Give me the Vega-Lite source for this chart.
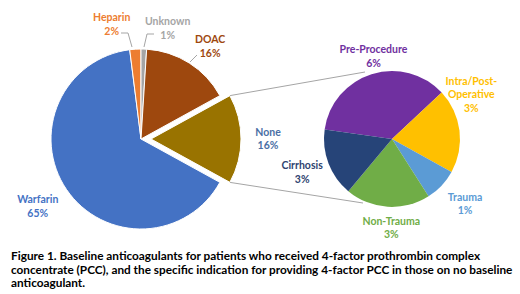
{
  "$schema": "https://vega.github.io/schema/vega-lite/v6.json",
  "width": 520,
  "height": 232,
  "padding": 0,
  "background": "white",
  "view": {"stroke": null},
  "config": {
    "text": {"font": "Lato", "fontWeight": "bold", "fontSize": 10.5, "lineBreak": "\n", "lineHeight": 13.5, "align": "center", "baseline": "middle"}
  },
  "title": {
    "text": ["Figure 1.  Baseline anticoagulants for patients who received 4-factor prothrombin complex", "concentrate (PCC), and the specific indication for providing 4-factor PCC in those on no baseline", "anticoagulant."],
    "orient": "bottom", "anchor": "start", "frame": "group", "dx": 11, "offset": 10,
    "font": "Lato", "fontSize": 11.8, "fontWeight": "bold", "lineHeight": 13.5, "color": "#000000"
  },
  "datasets": {
    "main": [
      {"k": "None", "v": 16, "o": 1, "lbl": "None\n16%"},
      {"k": "Warfarin", "v": 65, "o": 2, "lbl": "Warfarin\n65%"},
      {"k": "Heparin", "v": 2, "o": 3, "lbl": "Heparin\n2%"},
      {"k": "Unknown", "v": 1, "o": 4, "lbl": "Unknown\n1%"},
      {"k": "DOAC", "v": 16, "o": 5, "lbl": "DOAC\n16%"}
    ],
    "sub": [
      {"k": "Pre-Procedure", "v": 5.73, "o": 1, "lbl": "Pre-Procedure\n6%"},
      {"k": "Intra/Post-Operative", "v": 3.2, "o": 2, "lbl": "Intra/Post-\nOperative\n3%"},
      {"k": "Trauma", "v": 1.27, "o": 3, "lbl": "Trauma\n1%"},
      {"k": "Non-Trauma", "v": 3.22, "o": 4, "lbl": "Non-Trauma\n3%"},
      {"k": "Cirrhosis", "v": 2.58, "o": 5, "lbl": "Cirrhosis\n3%"}
    ]
  },
  "resolve": {"scale": {"theta": "independent", "color": "independent"}},
  "layer": [
    {"data": {"values": [{}]}, "mark": {"type": "rule", "color": "#A5A5A5", "strokeWidth": 1},
     "encoding": {"x": {"datum": 230, "type": "quantitative", "scale": {"domain": [0, 520], "nice": false, "zero": false}, "axis": null}, "x2": {"datum": 365}, "y": {"datum": 86.6, "type": "quantitative", "scale": {"domain": [0, 232], "reverse": true, "nice": false, "zero": false}, "axis": null}, "y2": {"datum": 63}}},
    {"data": {"values": [{}]}, "mark": {"type": "rule", "color": "#A5A5A5", "strokeWidth": 1},
     "encoding": {"x": {"datum": 230, "type": "quantitative"}, "x2": {"datum": 363}, "y": {"datum": 173.4, "type": "quantitative"}, "y2": {"datum": 194}}},
    {"data": {"values": [{}]}, "mark": {"type": "rule", "color": "#A5A5A5", "strokeWidth": 1},
     "encoding": {"x": {"datum": 121, "type": "quantitative"}, "x2": {"datum": 128}, "y": {"datum": 24, "type": "quantitative"}, "y2": {"datum": 24}}},
    {"data": {"values": [{}]}, "mark": {"type": "rule", "color": "#A5A5A5", "strokeWidth": 1},
     "encoding": {"x": {"datum": 128, "type": "quantitative"}, "x2": {"datum": 132}, "y": {"datum": 24, "type": "quantitative"}, "y2": {"datum": 38}}},
    {"data": {"values": [{}]}, "mark": {"type": "rule", "color": "#A5A5A5", "strokeWidth": 1},
     "encoding": {"x": {"datum": 154, "type": "quantitative"}, "x2": {"datum": 147}, "y": {"datum": 25, "type": "quantitative"}, "y2": {"datum": 25}}},
    {"data": {"values": [{}]}, "mark": {"type": "rule", "color": "#A5A5A5", "strokeWidth": 1},
     "encoding": {"x": {"datum": 147, "type": "quantitative"}, "x2": {"datum": 144}, "y": {"datum": 25, "type": "quantitative"}, "y2": {"datum": 38}}},
    {"data": {"values": [{}]}, "mark": {"type": "rule", "color": "#A5A5A5", "strokeWidth": 1},
     "encoding": {"x": {"datum": 197, "type": "quantitative"}, "x2": {"datum": 190}, "y": {"datum": 46, "type": "quantitative"}, "y2": {"datum": 53}}},
    {"data": {"name": "main"}, "mark": {"type": "arc", "outerRadius": 90, "stroke": "white", "strokeWidth": 1},
     "encoding": {
       "x": {"datum": 141, "type": "quantitative"}, "y": {"datum": 130, "type": "quantitative"},
       "theta": {"field": "v", "type": "quantitative", "stack": true, "scale": {"range": [1.0681, 7.3513]}},
       "order": {"field": "o"},
       "color": {"field": "k", "type": "nominal", "scale": {"domain": ["None", "Warfarin", "Heparin", "Unknown", "DOAC"], "range": ["#997300", "#4472C4", "#ED7D31", "#A5A5A5", "#9E480E"]}, "legend": null},
       "opacity": {"condition": {"test": "datum.k === 'None'", "value": 0}, "value": 1}
     }},
    {"data": {"name": "main"}, "mark": {"type": "arc", "outerRadius": 90, "stroke": "white", "strokeWidth": 1, "xOffset": 10, "fill": "#997300"},
     "encoding": {
       "x": {"datum": 141, "type": "quantitative"}, "y": {"datum": 130, "type": "quantitative"},
       "theta": {"field": "v", "type": "quantitative", "stack": true, "scale": {"range": [1.0681, 7.3513]}},
       "order": {"field": "o"},
       "opacity": {"condition": {"test": "datum.k === 'None'", "value": 1}, "value": 0}
     }},
    {"data": {"name": "sub"}, "mark": {"type": "arc", "outerRadius": 68},
     "encoding": {
       "x": {"datum": 392, "type": "quantitative"}, "y": {"datum": 130, "type": "quantitative"},
       "theta": {"field": "v", "type": "quantitative", "stack": true, "scale": {"range": [4.852, 11.135]}},
       "order": {"field": "o"},
       "color": {"field": "k", "type": "nominal", "scale": {"domain": ["Pre-Procedure", "Intra/Post-Operative", "Trauma", "Non-Trauma", "Cirrhosis"], "range": ["#7030A0", "#FFC000", "#5B9BD5", "#70AD47", "#264478"]}, "legend": null}
     }},
    {"data": {"name": "main"}, "mark": {"type": "text", "radius": 116, "dx": 7, "dy": -1, "fill": "#9E480E"},
     "encoding": {"x": {"datum": 141, "type": "quantitative"}, "y": {"datum": 130, "type": "quantitative"},
       "theta": {"field": "v", "type": "quantitative", "stack": true, "scale": {"range": [1.0681, 7.3513]}}, "order": {"field": "o"},
       "text": {"condition": {"test": "datum.k === 'DOAC'", "field": "lbl"}, "value": ""}}},
    {"data": {"name": "main"}, "mark": {"type": "text", "radius": 120, "dx": -4, "dy": -6, "fill": "#4472C4"},
     "encoding": {"x": {"datum": 141, "type": "quantitative"}, "y": {"datum": 130, "type": "quantitative"},
       "theta": {"field": "v", "type": "quantitative", "stack": true, "scale": {"range": [1.0681, 7.3513]}}, "order": {"field": "o"},
       "text": {"condition": {"test": "datum.k === 'Warfarin'", "field": "lbl"}, "value": ""}}},
    {"data": {"name": "main"}, "mark": {"type": "text", "radius": 117, "xOffset": 10, "dy": -6, "fill": "#4A6FA5"},
     "encoding": {"x": {"datum": 141, "type": "quantitative"}, "y": {"datum": 130, "type": "quantitative"},
       "theta": {"field": "v", "type": "quantitative", "stack": true, "scale": {"range": [1.0681, 7.3513]}}, "order": {"field": "o"},
       "text": {"condition": {"test": "datum.k === 'None'", "field": "lbl"}, "value": ""}}},
    {"data": {"name": "main"}, "mark": {"type": "text", "radius": 116, "dx": -22, "dy": -5, "fill": "#ED7D31"},
     "encoding": {"x": {"datum": 141, "type": "quantitative"}, "y": {"datum": 130, "type": "quantitative"},
       "theta": {"field": "v", "type": "quantitative", "stack": true, "scale": {"range": [1.0681, 7.3513]}}, "order": {"field": "o"},
       "text": {"condition": {"test": "datum.k === 'Heparin'", "field": "lbl"}, "value": ""}}},
    {"data": {"name": "main"}, "mark": {"type": "text", "radius": 116, "dx": 23, "dy": -1, "fill": "#A5A5A5"},
     "encoding": {"x": {"datum": 141, "type": "quantitative"}, "y": {"datum": 130, "type": "quantitative"},
       "theta": {"field": "v", "type": "quantitative", "stack": true, "scale": {"range": [1.0681, 7.3513]}}, "order": {"field": "o"},
       "text": {"condition": {"test": "datum.k === 'Unknown'", "field": "lbl"}, "value": ""}}},
    {"data": {"name": "sub"}, "mark": {"type": "text", "radius": 88, "dx": 8, "dy": -5, "fill": "#7030A0"},
     "encoding": {"x": {"datum": 392, "type": "quantitative"}, "y": {"datum": 130, "type": "quantitative"},
       "theta": {"field": "v", "type": "quantitative", "stack": true, "scale": {"range": [4.852, 11.135]}}, "order": {"field": "o"},
       "text": {"condition": {"test": "datum.k === 'Pre-Procedure'", "field": "lbl"}, "value": ""}}},
    {"data": {"name": "sub"}, "mark": {"type": "text", "radius": 92, "dx": -12, "dy": -46, "fill": "#FFC000"},
     "encoding": {"x": {"datum": 392, "type": "quantitative"}, "y": {"datum": 130, "type": "quantitative"},
       "theta": {"field": "v", "type": "quantitative", "stack": true, "scale": {"range": [4.852, 11.135]}}, "order": {"field": "o"},
       "text": {"condition": {"test": "datum.k === 'Intra/Post-Operative'", "field": "lbl"}, "value": ""}}},
    {"data": {"name": "sub"}, "mark": {"type": "text", "radius": 92, "dx": 6, "dy": -4, "fill": "#5B9BD5"},
     "encoding": {"x": {"datum": 392, "type": "quantitative"}, "y": {"datum": 130, "type": "quantitative"},
       "theta": {"field": "v", "type": "quantitative", "stack": true, "scale": {"range": [4.852, 11.135]}}, "order": {"field": "o"},
       "text": {"condition": {"test": "datum.k === 'Trauma'", "field": "lbl"}, "value": ""}}},
    {"data": {"name": "sub"}, "mark": {"type": "text", "radius": 88, "dx": 5, "dy": -5, "fill": "#70AD47"},
     "encoding": {"x": {"datum": 392, "type": "quantitative"}, "y": {"datum": 130, "type": "quantitative"},
       "theta": {"field": "v", "type": "quantitative", "stack": true, "scale": {"range": [4.852, 11.135]}}, "order": {"field": "o"},
       "text": {"condition": {"test": "datum.k === 'Non-Trauma'", "field": "lbl"}, "value": ""}}},
    {"data": {"name": "sub"}, "mark": {"type": "text", "radius": 92, "dx": -4, "dy": -6, "fill": "#2E4370"},
     "encoding": {"x": {"datum": 392, "type": "quantitative"}, "y": {"datum": 130, "type": "quantitative"},
       "theta": {"field": "v", "type": "quantitative", "stack": true, "scale": {"range": [4.852, 11.135]}}, "order": {"field": "o"},
       "text": {"condition": {"test": "datum.k === 'Cirrhosis'", "field": "lbl"}, "value": ""}}}
  ]
}
